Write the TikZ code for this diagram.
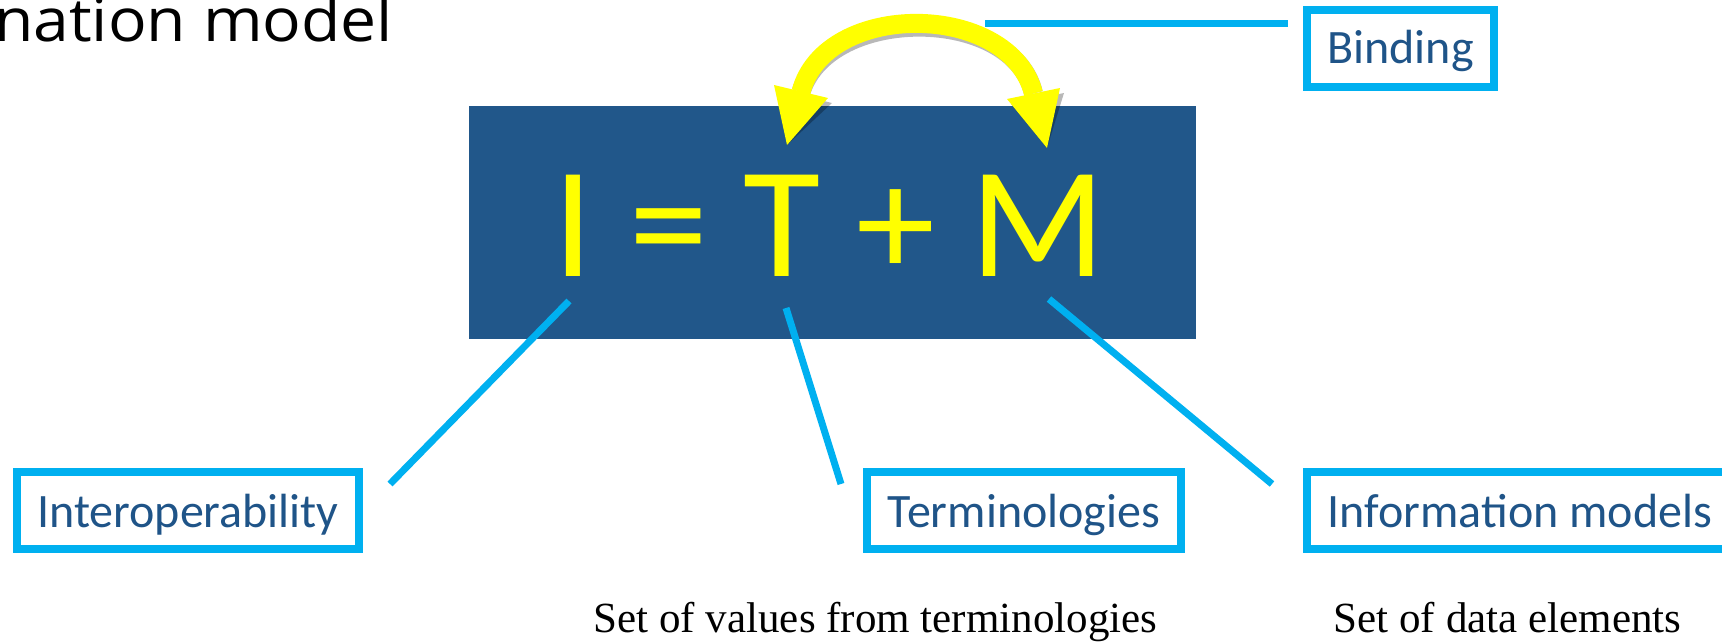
\documentclass[tikz,border=0pt]{standalone}
\usepackage{fontspec}
\setmainfont{Carlito}
\newfontfamily\timesfont{Liberation Serif}
\newfontfamily\titlefont{Open Sans}
\usetikzlibrary{calc}
\definecolor{cyanline}{HTML}{00B0F0}
\definecolor{eqblue}{HTML}{21578A}
\definecolor{labelblue}{HTML}{1F5488}
\definecolor{arrowyellow}{HTML}{FFFF00}
\begin{document}
\begin{tikzpicture}[x=1pt,y=-1pt,
  labelbox/.style={draw=cyanline, line width=8pt, text=labelblue,
    font=\fontsize{48}{58}\selectfont, inner sep=0pt,
    minimum height=77pt, text height=33pt, text depth=0pt},
  connector/.style={draw=cyanline, line width=7pt},
  note/.style={font=\timesfont\fontsize{43}{52}\selectfont, anchor=base, inner sep=0pt},
  bindarrow/.style={line width=19pt},
  shadowcopy/.style={black, opacity=0.28}]
\useasboundingbox (0,0) rectangle (1722,643);
\clip (0,0) rectangle (1722,643);

% title (cut at the slide edge)
\node[anchor=base west, inner sep=0pt, font=\titlefont\fontsize{60}{66}\selectfont] (title) at (-6,41)
  {\scalebox{1.07}[1]{nation model}};

% equation box
\node[fill=eqblue, minimum width=727pt, minimum height=233pt, inner sep=0pt] (eqbox) at (832.5,222.5) {};
\node[anchor=base, text=arrowyellow, font=\fontsize{158}{170}\selectfont, inner sep=0pt] (eq) at (830,276) {I = T + M};

% label boxes
\node[labelbox, minimum width=187pt, text height=31pt] (binding) at (1400.5,48) {Binding};
\node[labelbox, minimum width=342pt] (interop) at (188,510.5) {Interoperability};
\node[labelbox, minimum width=314pt] (termin) at (1024,510.5) {Terminologies};
\node[labelbox, minimum width=426pt] (infomod) at (1520,510.5) {Information models};

% notes
\node[note] (notevalues) at (875.5,632) {Set of values from terminologies};
\node[note] (noteelements) at (1507.5,632) {Set of data elements};

% connector end points
\coordinate (iTop) at (569,301);
\coordinate (iEnd) at (390,484);
\coordinate (tTop) at (786,308);
\coordinate (tEnd) at (841,484);
\coordinate (mTop) at (1049,299);
\coordinate (mEnd) at (1272,484);
\coordinate (bindStart) at (985,23);

\draw[connector] (iTop) -- (iEnd);
\draw[connector] (tTop) -- (tEnd);
\draw[connector] (mTop) -- (mEnd);
\draw[connector] (bindStart) -- ($(binding.west |- bindStart)+(-15,0)$);

% binding double arrow between T and M
\coordinate (lBase) at (801,92);
\coordinate (rBase) at (1033.5,93.5);
\coordinate (tTip) at (787,145);
\coordinate (mTip) at (1047,148);
\begin{scope}[shift={(4,5)}]
  \draw[shadowcopy, bindarrow] (lBase) .. controls (825,-0.5) and (1010,1) .. (rBase);
  \fill[shadowcopy] (774,85) -- (tTip) -- (828,98) -- cycle;
  \fill[shadowcopy] (1060,88) -- (mTip) -- (1007,99) -- cycle;
\end{scope}
\draw[arrowyellow, bindarrow] (lBase) .. controls (825,-0.5) and (1010,1) .. (rBase);
\fill[arrowyellow] (774,85) -- (tTip) -- (828,98) -- cycle;
\fill[arrowyellow] (1060,88) -- (mTip) -- (1007,99) -- cycle;
\end{tikzpicture}
\end{document}
